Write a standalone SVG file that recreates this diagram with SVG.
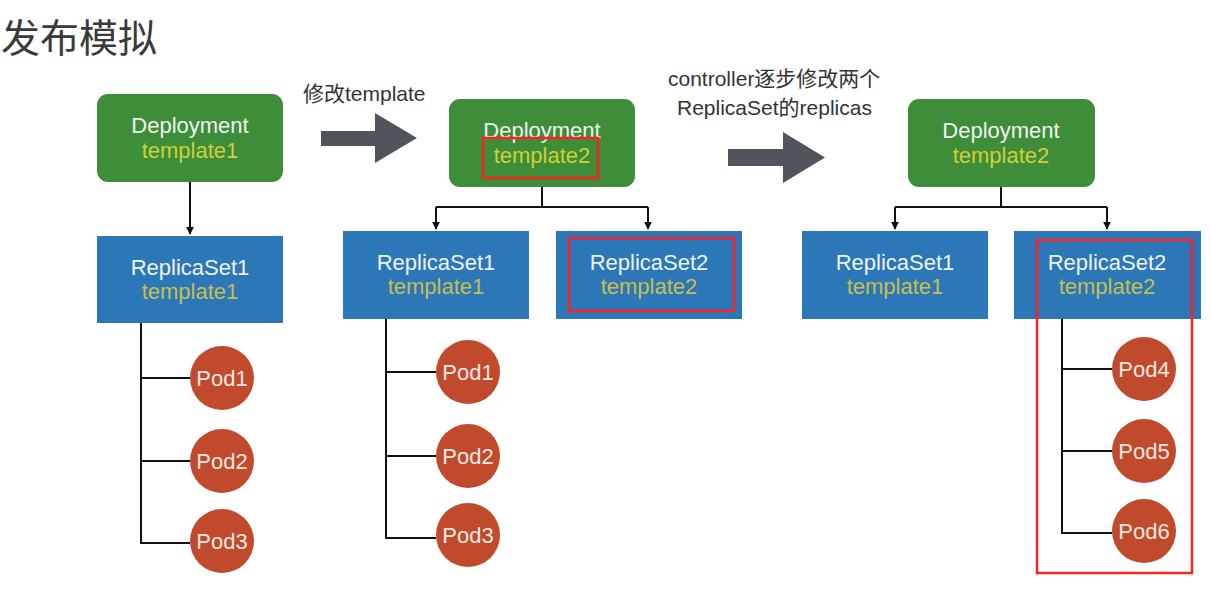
<svg xmlns="http://www.w3.org/2000/svg" width="1211" height="598" viewBox="0 0 1211 598">
<defs>
<style>
.bg{fill:#ffffff}
.dep{fill:#3e8d39}
.rs{fill:#2c77b8}
.pod{fill:#c1492c}
.t{font-family:"Liberation Sans",Arial,sans-serif;font-size:22px;text-anchor:middle}
.w{fill:#eef3ee}
.yg{fill:#cfcf3a}
.yb{fill:#c6bf4f}
.pw{fill:#f6e9e3}
.lbl{font-family:"Liberation Sans","Noto Sans CJK SC",sans-serif;font-size:21px;fill:#333333}
.title{font-family:"Noto Sans CJK SC","Liberation Sans",sans-serif;font-size:39px;fill:#3a3a3a}
.ln{stroke:#111111;stroke-width:2;fill:none}
.hl{fill:none;stroke:#ff2020;stroke-width:2.5}
.big{fill:#50545b}
</style>
<marker id="ah" viewBox="0 0 10 10" refX="9" refY="5" markerWidth="8" markerHeight="8" markerUnits="userSpaceOnUse" orient="auto">
<path d="M0,0 L10,5 L0,10 z" fill="#111111"/>
</marker>
</defs>
<rect class="bg" x="0" y="0" width="1211" height="598"/>
<text class="title" x="1" y="52">发布模拟</text>

<g id="connectors">
<line class="ln" x1="190" y1="182" x2="190" y2="234" marker-end="url(#ah)"/>
<polyline class="ln" points="141,323 141,543 190,543"/>
<line class="ln" x1="141" y1="378" x2="190" y2="378"/>
<line class="ln" x1="141" y1="461" x2="190" y2="461"/>

<line class="ln" x1="542" y1="187" x2="542" y2="207"/>
<polyline class="ln" points="436,207 648,207"/>
<line class="ln" x1="436" y1="207" x2="436" y2="229" marker-end="url(#ah)"/>
<line class="ln" x1="648" y1="207" x2="648" y2="229" marker-end="url(#ah)"/>
<polyline class="ln" points="386,319 386,538 436,538"/>
<line class="ln" x1="386" y1="372" x2="436" y2="372"/>
<line class="ln" x1="386" y1="456" x2="436" y2="456"/>

<line class="ln" x1="1001" y1="187" x2="1001" y2="207"/>
<polyline class="ln" points="895,207 1107,207"/>
<line class="ln" x1="895" y1="207" x2="895" y2="229" marker-end="url(#ah)"/>
<line class="ln" x1="1107" y1="207" x2="1107" y2="229" marker-end="url(#ah)"/>
<polyline class="ln" points="1062,319 1062,533 1112,533"/>
<line class="ln" x1="1062" y1="369" x2="1112" y2="369"/>
<line class="ln" x1="1062" y1="451" x2="1112" y2="451"/>
</g>

<g id="arrow1">
<polygon class="big" points="321,131 375,131 375,113 417,138 375,163 375,146 321,146"/>
<text class="lbl" x="303" y="101">修改template</text>
</g>
<g id="arrow2">
<polygon class="big" points="728,149 783,149 783,132 825,157.5 783,183 783,166 728,166"/>
<text class="lbl" x="668" y="86">controller逐步修改两个</text>
<text class="lbl" x="677" y="115">ReplicaSet的replicas</text>
</g>

<g id="dep1">
<rect class="dep" x="97" y="94" width="186" height="88" rx="11"/>
<text class="t w" x="190" y="133">Deployment</text>
<text class="t yg" x="190" y="158">template1</text>
</g>
<g id="rs1a">
<rect class="rs" x="97" y="236" width="186" height="87"/>
<text class="t w" x="190" y="275">ReplicaSet1</text>
<text class="t yb" x="190" y="299">template1</text>
</g>
<g id="pod1a"><circle class="pod" cx="222" cy="378" r="32"/><text class="t pw" x="222" y="386">Pod1</text></g>
<g id="pod2a"><circle class="pod" cx="222" cy="461" r="32"/><text class="t pw" x="222" y="469">Pod2</text></g>
<g id="pod3a"><circle class="pod" cx="222" cy="541" r="32"/><text class="t pw" x="222" y="549">Pod3</text></g>

<g id="dep2">
<rect class="dep" x="449" y="99" width="186" height="88" rx="11"/>
<text class="t w" x="542" y="138">Deployment</text>
<text class="t yg" x="542" y="163">template2</text>
<rect class="hl" x="483" y="138" width="115" height="40"/>
</g>
<g id="rs1b">
<rect class="rs" x="343" y="231" width="186" height="88"/>
<text class="t w" x="436" y="270">ReplicaSet1</text>
<text class="t yb" x="436" y="294">template1</text>
</g>
<g id="rs2b">
<rect class="rs" x="556" y="231" width="186" height="88"/>
<text class="t w" x="649" y="270">ReplicaSet2</text>
<text class="t yb" x="649" y="294">template2</text>
<rect class="hl" x="569" y="238" width="165" height="73"/>
</g>
<g id="pod1b"><circle class="pod" cx="468" cy="372" r="32"/><text class="t pw" x="468" y="380">Pod1</text></g>
<g id="pod2b"><circle class="pod" cx="468" cy="456" r="32"/><text class="t pw" x="468" y="464">Pod2</text></g>
<g id="pod3b"><circle class="pod" cx="468" cy="535" r="32"/><text class="t pw" x="468" y="543">Pod3</text></g>

<g id="dep3">
<rect class="dep" x="908" y="99" width="187" height="88" rx="11"/>
<text class="t w" x="1001" y="138">Deployment</text>
<text class="t yg" x="1001" y="163">template2</text>
</g>
<g id="rs1c">
<rect class="rs" x="802" y="231" width="186" height="88"/>
<text class="t w" x="895" y="270">ReplicaSet1</text>
<text class="t yb" x="895" y="294">template1</text>
</g>
<g id="rs2c">
<rect class="rs" x="1014" y="231" width="187" height="88"/>
<text class="t w" x="1107" y="270">ReplicaSet2</text>
<text class="t yb" x="1107" y="294">template2</text>
</g>
<g id="pod4"><circle class="pod" cx="1144" cy="369" r="32"/><text class="t pw" x="1144" y="377">Pod4</text></g>
<g id="pod5"><circle class="pod" cx="1144" cy="451" r="32"/><text class="t pw" x="1144" y="459">Pod5</text></g>
<g id="pod6"><circle class="pod" cx="1144" cy="531" r="32"/><text class="t pw" x="1144" y="539">Pod6</text></g>
<rect id="highlight3" class="hl" x="1037" y="240" width="155" height="333"/>
</svg>
